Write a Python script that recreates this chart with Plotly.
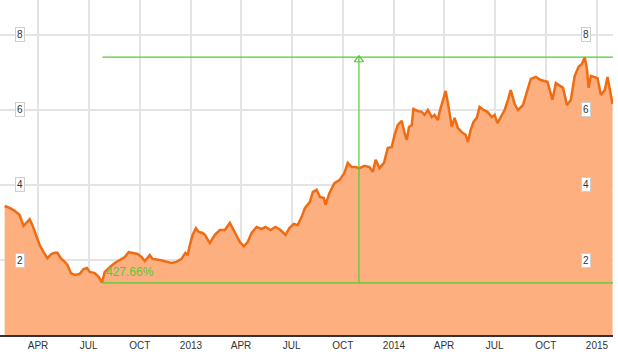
import plotly.graph_objects as go

dates = [
    "2012-02-01", "2012-02-10", "2012-02-19", "2012-02-28", "2012-03-06", "2012-03-17", "2012-03-22", "2012-03-28",
    "2012-04-04", "2012-04-11", "2012-04-18", "2012-04-25", "2012-05-01", "2012-05-06", "2012-05-12", "2012-05-19",
    "2012-05-24", "2012-05-30", "2012-06-06", "2012-06-15", "2012-06-22", "2012-06-28", "2012-07-03", "2012-07-12",
    "2012-07-19", "2012-07-25", "2012-07-30", "2012-08-08", "2012-08-17", "2012-08-26", "2012-09-04", "2012-09-11",
    "2012-09-18", "2012-09-27", "2012-10-04", "2012-10-10", "2012-10-19", "2012-10-24", "2012-11-06", "2012-11-18",
    "2012-11-27", "2012-12-06", "2012-12-15", "2012-12-22", "2012-12-26", "2012-12-30",
    "2013-01-04", "2013-01-10", "2013-01-15", "2013-01-22", "2013-01-26", "2013-02-04", "2013-02-13", "2013-02-22",
    "2013-03-03", "2013-03-12", "2013-03-21", "2013-03-30", "2013-04-06", "2013-04-13", "2013-04-20", "2013-04-29",
    "2013-05-08", "2013-05-15", "2013-05-24", "2013-06-02", "2013-06-11", "2013-06-20", "2013-06-27", "2013-07-05",
    "2013-07-12", "2013-07-19", "2013-07-25", "2013-08-03", "2013-08-08", "2013-08-15", "2013-08-21", "2013-08-28",
    "2013-08-31", "2013-09-07", "2013-09-16", "2013-09-25", "2013-10-04", "2013-10-10", "2013-10-17", "2013-10-24",
    "2013-10-31", "2013-11-09", "2013-11-18", "2013-11-24", "2013-11-29", "2013-12-06", "2013-12-14", "2013-12-21",
    "2013-12-28",
    "2014-01-02", "2014-01-08", "2014-01-15", "2014-01-20", "2014-01-24", "2014-01-28", "2014-02-02", "2014-02-05",
    "2014-02-13", "2014-02-20", "2014-02-25", "2014-03-03", "2014-03-10", "2014-03-15", "2014-03-21", "2014-03-24",
    "2014-03-31", "2014-04-04", "2014-04-08", "2014-04-15", "2014-04-20", "2014-04-26", "2014-05-03", "2014-05-10",
    "2014-05-14", "2014-05-19", "2014-05-24", "2014-05-30", "2014-06-04", "2014-06-11", "2014-06-18", "2014-06-26",
    "2014-07-01", "2014-07-06", "2014-07-12", "2014-07-19", "2014-07-25", "2014-07-30", "2014-08-06", "2014-08-12",
    "2014-08-21", "2014-08-26", "2014-09-04", "2014-09-13", "2014-09-22", "2014-10-04", "2014-10-10", "2014-10-13",
    "2014-10-19", "2014-11-01", "2014-11-08", "2014-11-15", "2014-11-22", "2014-11-29", "2014-12-05", "2014-12-10",
    "2014-12-14", "2014-12-17", "2014-12-21", "2014-12-28",
    "2015-01-02", "2015-01-08", "2015-01-15", "2015-01-20", "2015-01-24", "2015-01-29",
]
prices = [
    3.44, 3.39, 3.31, 3.20, 2.91, 3.09, 2.93, 2.67,
    2.40, 2.21, 2.05, 2.16, 2.19, 2.19, 2.05, 1.95,
    1.87, 1.65, 1.60, 1.63, 1.76, 1.79, 1.68, 1.65,
    1.55, 1.40, 1.68, 1.81, 1.92, 2.00, 2.08, 2.21,
    2.19, 2.16, 2.08, 1.97, 2.13, 2.03, 2.00, 1.95,
    1.92, 1.95, 2.03, 2.19, 2.13, 2.40,
    2.67, 2.85, 2.75, 2.72, 2.67, 2.45, 2.67, 2.80,
    2.80, 2.99, 2.72, 2.48, 2.37, 2.48, 2.72, 2.88,
    2.83, 2.88, 2.80, 2.88, 2.80, 2.67, 2.85, 2.96,
    2.93, 3.15, 3.39, 3.55, 3.81, 3.87, 3.68, 3.65,
    3.47, 3.79, 4.05, 4.13, 4.32, 4.59, 4.48, 4.48,
    4.45, 4.51, 4.48, 4.35, 4.67, 4.45, 4.59, 4.99,
    5.01,
    5.33, 5.60, 5.71, 5.39, 5.20, 5.55, 5.60, 6.03,
    5.97, 5.95, 5.87, 6.00, 5.81, 5.87, 5.73, 5.95,
    6.27, 6.51, 6.19, 5.55, 5.79, 5.52, 5.41, 5.33,
    5.15, 5.47, 5.68, 5.79, 6.08, 6.00, 5.95, 5.81,
    5.87, 5.65, 5.81, 6.00, 6.27, 6.53, 6.16, 6.00,
    6.13, 6.37, 6.83, 6.88, 6.80, 6.75, 6.40, 6.27,
    6.72, 6.59, 6.13, 6.27, 6.91, 7.15, 7.23, 7.41,
    7.09, 6.59, 6.91, 6.88,
    6.85, 6.40, 6.53, 6.88, 6.53, 6.16,
]

tick_dates = ["2012-04-01", "2012-07-01", "2012-10-01", "2013-01-01", "2013-04-01", "2013-07-01",
              "2013-10-01", "2014-01-01", "2014-04-01", "2014-07-01", "2014-10-01", "2015-01-01"]
tick_labels = ["APR", "JUL", "OCT", "2013", "APR", "JUL", "OCT", "2014", "APR", "JUL", "OCT", "2015"]
grid_values = [2, 4, 6, 8]

low_date = "2012-07-26"
low_value = 1.39
high_value = 7.41
measure_date = "2013-10-30"
line_end_date = "2015-02-06"
change_label = "427.66%"

GREEN = "#55c936"
W, H = 618, 354
ML, MR, MT, MB = 0, 5, 0, 19
PW = W - ML - MR

fig = go.Figure()
fig.add_trace(go.Scatter(
    x=dates, y=prices, mode="lines",
    line=dict(color="#ef6c12", width=2.5),
    fill="tozeroy", fillcolor="#fdaf80",
    hoverinfo="skip", showlegend=False,
))

# measurement lines
fig.add_shape(type="line", xref="x", yref="y", x0=low_date, x1=line_end_date, y0=high_value, y1=high_value,
              line=dict(color=GREEN, width=1.2))
fig.add_shape(type="line", xref="x", yref="y", x0=low_date, x1=line_end_date, y0=low_value, y1=low_value,
              line=dict(color=GREEN, width=1.2))
fig.add_shape(type="line", xref="x", yref="y", x0=measure_date, x1=measure_date, y0=low_value, y1=high_value,
              line=dict(color=GREEN, width=1.2))
fig.add_trace(go.Scatter(
    x=[measure_date], y=[high_value - 0.07], mode="markers",
    marker=dict(symbol="triangle-up-open", size=8, color=GREEN, line=dict(width=1.2, color=GREEN)),
    hoverinfo="skip", showlegend=False, cliponaxis=False,
))

annotations = [dict(x=low_date, y=low_value + 0.3, xref="x", yref="y", text=change_label, showarrow=False,
                    xanchor="left", yanchor="middle", xshift=1,
                    font=dict(family="Liberation Sans, Arial", size=12, color=GREEN))]
for v in grid_values:
    for px in (20, 586):
        annotations.append(dict(x=px / PW, y=v, xref="paper", yref="y", text=str(v), showarrow=False,
                                xanchor="center", yanchor="middle",
                                bgcolor="white", bordercolor="#cfcfcf", borderwidth=1, borderpad=1,
                                font=dict(family="Liberation Sans, Arial", size=10, color="#333333")))

fig.update_layout(
    width=W, height=H,
    margin=dict(l=ML, r=MR, t=MT, b=MB),
    paper_bgcolor="white", plot_bgcolor="white",
    annotations=annotations,
    xaxis=dict(
        type="date", range=["2012-01-23 16:00", "2015-01-29 20:00"],
        tickvals=tick_dates, ticktext=tick_labels,
        showgrid=True, gridcolor="#e4e4e4", gridwidth=1.5,
        showline=True, linecolor="#333333", linewidth=1.5,
        ticks="", ticklen=0,
        tickfont=dict(family="Liberation Sans, Arial", size=10, color="#333333"),
        zeroline=False, fixedrange=True,
    ),
    yaxis=dict(
        range=[0, 8.933], tickvals=grid_values, showticklabels=False,
        showgrid=True, gridcolor="#e4e4e4", gridwidth=1.5,
        zeroline=False, showline=False, ticks="",
    ),
)

fig.write_html("out.html")
